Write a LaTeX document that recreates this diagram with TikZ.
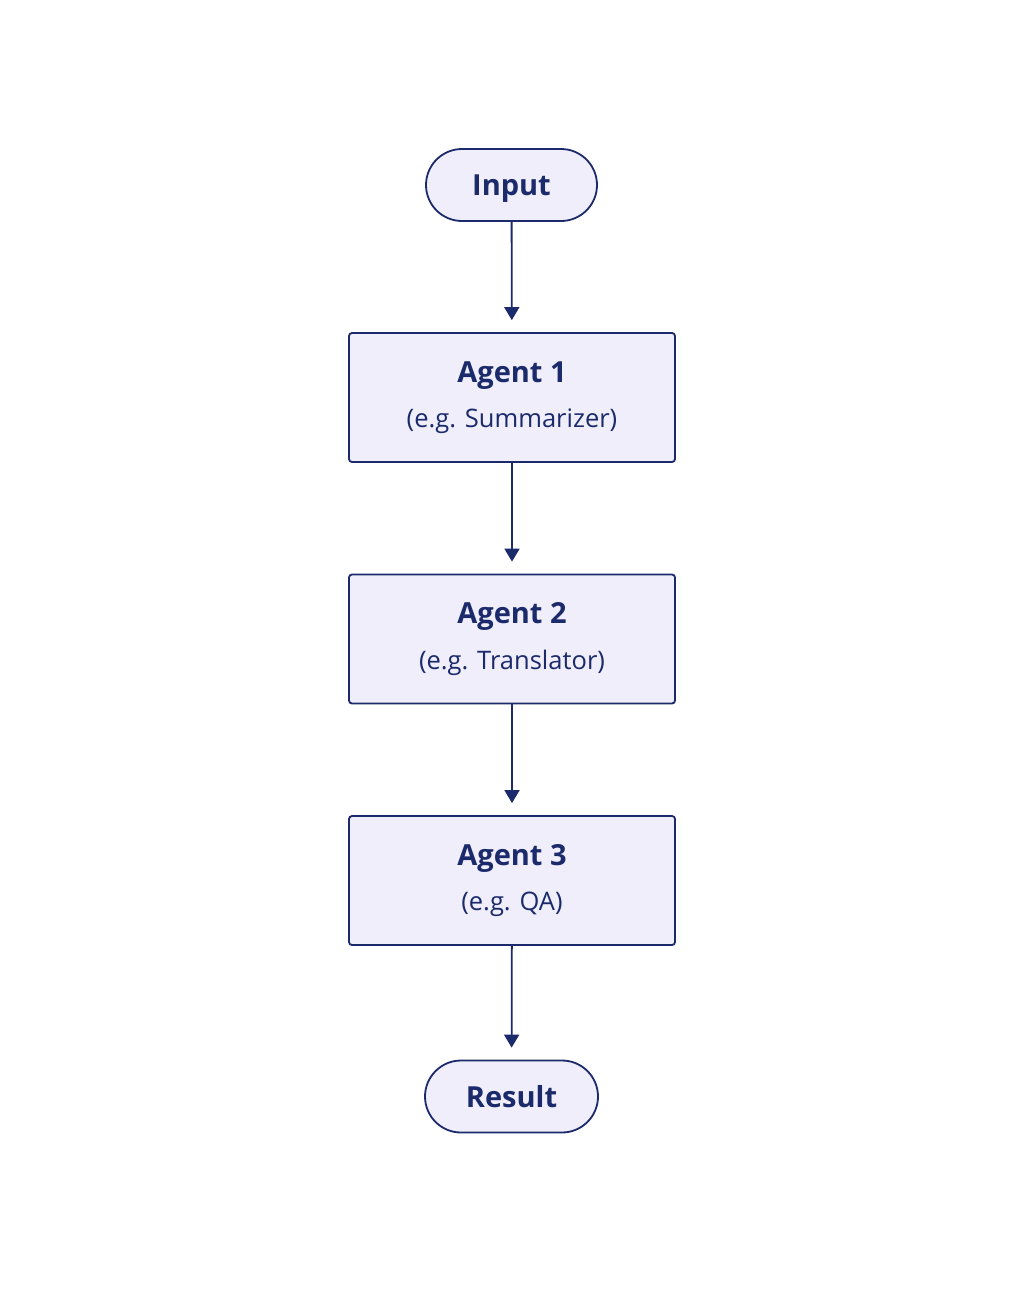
\documentclass[tikz,border=0pt]{standalone}
\usepackage{fontspec}
\setmainfont{Open Sans}
\usetikzlibrary{arrows.meta,shapes.misc}
\definecolor{navy}{HTML}{1B2A6B}
\definecolor{lav}{HTML}{EFEEFA}
\begin{document}
\begin{tikzpicture}[x=1pt,y=-1pt,
  term/.style={draw=navy,fill=lav,line width=1.8pt,rounded rectangle,minimum width=171pt,minimum height=72pt,inner sep=0pt,text height=21pt,text depth=0pt,text=navy,font=\fontsize{29}{32}\selectfont\bfseries},
  agent/.style={draw=navy,fill=lav,line width=1.8pt,rectangle,rounded corners=3pt,minimum width=326pt,minimum height=129pt,inner sep=0pt,text=navy,align=center},
  conn/.style={draw=navy,line width=1.8pt,-{Triangle[width=15pt,length=13pt]},shorten >=12pt}
]
\useasboundingbox (0,0) rectangle (1024,1295);
\fill[white] (0,0) rectangle (1024,1295);
\node[term] (in) at (511.5,185) {Input};
\node[agent] (a1) at (512,397.5) {{\fontsize{29}{34}\selectfont\bfseries Agent 1}\\[18pt]{\fontsize{25.5}{28}\selectfont (e.g. Summarizer)}};
\node[agent] (a2) at (512,639) {{\fontsize{29}{34}\selectfont\bfseries Agent 2}\\[18pt]{\fontsize{25.5}{28}\selectfont (e.g. Translator)}};
\node[agent] (a3) at (512,880.5) {{\fontsize{29}{34}\selectfont\bfseries Agent 3}\\[18pt]{\fontsize{25.5}{28}\selectfont (e.g. QA)}};
\node[term,minimum width=173pt] (res) at (511.5,1096.5) {Result};
\draw[conn] (in) -- (a1);
\draw[conn] (a1) -- (a2);
\draw[conn] (a2) -- (a3);
\draw[conn] (a3) -- (res);
\end{tikzpicture}
\end{document}
